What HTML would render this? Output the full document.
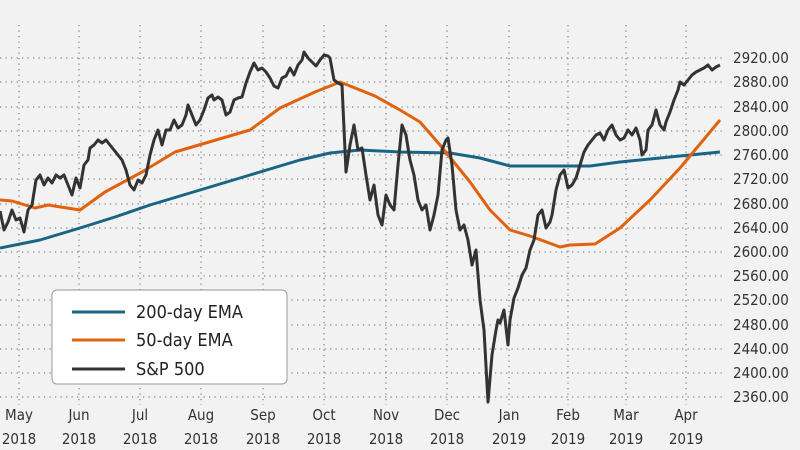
<!DOCTYPE html>
<html><head><meta charset="utf-8"><style>
html,body{margin:0;padding:0;background:#f2f2f2;}
svg{display:block;font-family:"DejaVu Sans Condensed","Liberation Sans",sans-serif;}
</style></head><body>
<svg width="800" height="450" viewBox="0 0 800 450">
<rect width="800" height="450" fill="#f2f2f2"/>
<g stroke="#888" stroke-width="1.3" stroke-dasharray="1.3,4.2" fill="none">
<path d="M0 58H726M0 82H726M0 107H726M0 131H726M0 155H726M0 179H726M0 204H726M0 228H726M0 252H726M0 276H726M0 300H726M0 325H726M0 349H726M0 373H726M0 397H726"/>
<path d="M19 25V405M79 25V405M140 25V405M201 25V405M263 25V405M324 25V405M386 25V405M447 25V405M509 25V405M568 25V405M626 25V405M686 25V405"/>
</g>
<g font-size="15" fill="#333">
<text x="733" y="63">2920.00</text><text x="733" y="87">2880.00</text><text x="733" y="112">2840.00</text><text x="733" y="136">2800.00</text><text x="733" y="160">2760.00</text><text x="733" y="184">2720.00</text><text x="733" y="209">2680.00</text><text x="733" y="233">2640.00</text><text x="733" y="257">2600.00</text><text x="733" y="281">2560.00</text><text x="733" y="305">2520.00</text><text x="733" y="330">2480.00</text><text x="733" y="354">2440.00</text><text x="733" y="378">2400.00</text><text x="733" y="402">2360.00</text>
</g>
<g font-size="15" fill="#333" text-anchor="middle">
<text x="19" y="420">May</text><text x="19" y="444">2018</text>
<text x="79" y="420">Jun</text><text x="79" y="444">2018</text>
<text x="140" y="420">Jul</text><text x="140" y="444">2018</text>
<text x="201" y="420">Aug</text><text x="201" y="444">2018</text>
<text x="263" y="420">Sep</text><text x="263" y="444">2018</text>
<text x="324" y="420">Oct</text><text x="324" y="444">2018</text>
<text x="386" y="420">Nov</text><text x="386" y="444">2018</text>
<text x="447" y="420">Dec</text><text x="447" y="444">2018</text>
<text x="509" y="420">Jan</text><text x="509" y="444">2019</text>
<text x="568" y="420">Feb</text><text x="568" y="444">2019</text>
<text x="626" y="420">Mar</text><text x="626" y="444">2019</text>
<text x="686" y="420">Apr</text><text x="686" y="444">2019</text>
</g>
<g fill="none" stroke-width="3" stroke-linejoin="round">
<polyline stroke="#1a6585" points="0,248 40,240 80,228 115,217 150,205 200,190 250,175 300,160 330,153 360,150 400,152 450,153 480,158 510,166 540,166 590,166 620,162 660,158 720,152"/>
<polyline stroke="#e0620d" points="0,200 12,201 35,208 48,205 80,210 105,192 142,172 175,152 250,130 280,108 315,92 340,82 375,96 400,110 420,122 440,145 470,182 490,210 510,230 530,236 560,247 570,245 595,244 620,228 650,200 680,168 720,120"/>
<polyline stroke="#333" points="0,211 4,230 8,222 12,210 16,220 20,218 24,232 28,210 32,205 36,180 40,175 44,185 48,178 52,183 56,175 60,178 64,175 68,185 72,195 76,178 80,188 84,165 88,160 90,148 94,145 98,140 102,143 106,140 110,145 114,150 118,155 122,160 126,170 130,185 134,190 138,180 142,183 146,175 150,155 154,140 158,130 162,145 166,130 170,130 174,120 178,128 182,125 186,115 188,105 192,115 196,125 200,120 204,110 208,98 212,95 214,100 218,97 222,100 226,115 230,112 234,100 238,98 242,97 246,83 250,72 254,63 258,70 262,68 266,72 270,78 274,86 278,88 282,78 286,76 290,68 294,75 298,65 302,60 304,52 308,58 312,62 316,66 320,60 324,55 328,56 330,58 334,80 338,83 342,85 346,172 350,145 354,125 358,150 362,148 366,175 370,200 374,185 378,215 382,225 386,195 390,205 394,210 398,165 402,125 406,135 410,160 414,175 418,200 422,210 426,205 430,230 434,215 438,195 442,150 446,140 448,138 452,165 456,210 460,230 464,225 468,240 472,265 476,250 480,300 484,330 488,402 492,355 496,330 498,320 500,323 504,310 508,345 510,320 514,298 518,288 522,275 526,268 530,250 534,240 538,215 542,210 546,228 550,222 552,215 556,190 560,175 564,170 568,188 572,185 576,178 580,165 584,152 588,145 592,140 596,135 600,133 604,140 608,130 612,125 616,135 620,140 624,138 628,130 632,135 636,128 640,140 642,155 646,150 648,130 652,125 656,110 660,125 664,130 666,122 670,112 674,100 678,90 680,82 684,85 688,80 692,75 696,72 700,70 704,68 708,65 712,70 716,67 720,65"/>
</g>
<rect x="52" y="290" width="235" height="94" rx="5" fill="#fff" stroke="#999" stroke-width="1"/>
<g stroke-width="3">
<line x1="72" y1="312" x2="125" y2="312" stroke="#1a6585"/>
<line x1="72" y1="340" x2="125" y2="340" stroke="#e0620d"/>
<line x1="72" y1="369" x2="125" y2="369" stroke="#333"/>
</g>
<g font-size="18" fill="#222">
<text x="136" y="318">200-day EMA</text>
<text x="136" y="346">50-day EMA</text>
<text x="136" y="375">S&amp;P 500</text>
</g>
</svg>
</body></html>
